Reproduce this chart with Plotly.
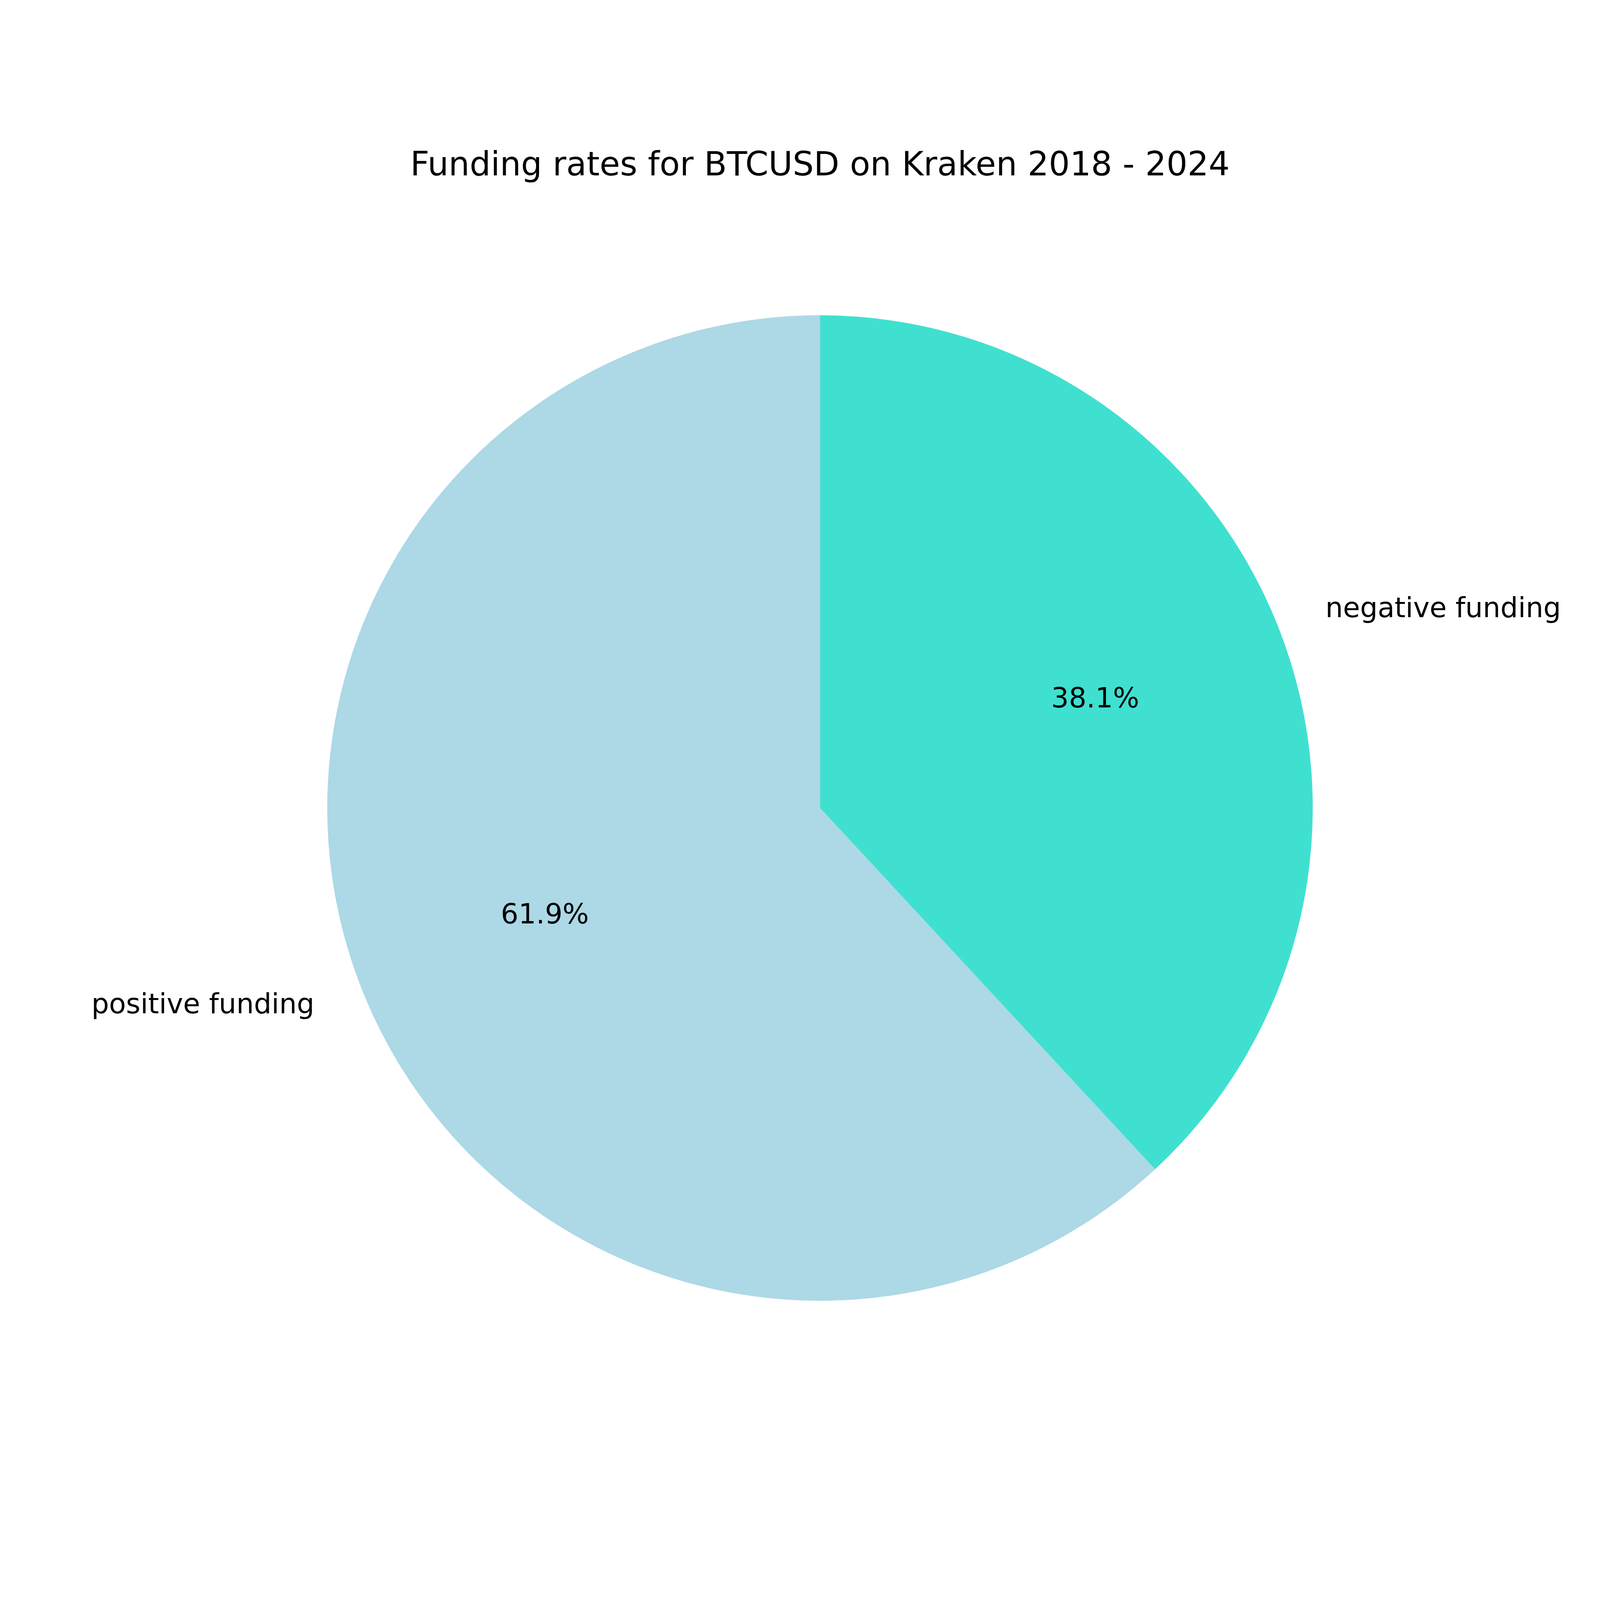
"""Pie chart of BTCUSD funding rate sign on Kraken, plotly version."""

import math

import plotly.graph_objects as go

# data
labels = ["positive funding", "negative funding"]
shares = [61.9, 38.1]
colors = ["#ADD8E6", "#40E0D0"]
title = "Funding rates for BTCUSD on Kraken 2018 - 2024"

# geometry: measured on the reference (6400 px), mapped onto the
# 4096 px viewport the page is actually shown in (body margin 8 px)
S = 4096 / 6400
OFF = 8
W = H = 4080
CX = 3280 * S - OFF
CY = 3232 * S - OFF  # from the top
R = 1971 * S
TITLE_Y = 655 * S - OFF
FONT = "DejaVu Sans"
LABEL_SIZE = round(111 * S)
TITLE_SIZE = round(133 * S)
SHIFT = 9 * S

cx = CX / W
cy = 1 - CY / H
rx = R / W
ry = R / H

fig = go.Figure()
# matplotlib draws the first wedge counterclockwise from 12 o'clock;
# in plotly the same picture is the reversed order drawn clockwise
fig.add_trace(
    go.Pie(
        labels=labels[::-1],
        values=shares[::-1],
        marker=dict(colors=colors[::-1], line=dict(width=0)),
        sort=False,
        direction="clockwise",
        rotation=0,
        textinfo="none",
        hoverinfo="label+percent",
        showlegend=False,
        domain=dict(x=[cx - rx, cx + rx], y=[cy - ry, cy + ry]),
    )
)

# label / percent text placed like matplotlib (1.1 r and 0.6 r)
total = sum(shares)
start = 90.0
for lab, val in zip(labels, shares):
    span = 360.0 * val / total
    mid = math.radians(start + span / 2)
    start += span
    c, s = math.cos(mid), math.sin(mid)
    fig.add_annotation(
        x=cx + 0.6 * rx * c,
        y=cy + 0.6 * ry * s,
        text=f"{100 * val / total:.1f}%",
        showarrow=False,
        xanchor="center",
        yanchor="middle",
        yshift=SHIFT,
        font=dict(family=FONT, size=LABEL_SIZE, color="black"),
    )
    fig.add_annotation(
        x=cx + 1.1 * rx * c,
        y=cy + 1.1 * ry * s,
        text=lab,
        showarrow=False,
        xanchor="left" if c > 0 else "right",
        yanchor="middle",
        yshift=SHIFT,
        font=dict(family=FONT, size=LABEL_SIZE, color="black"),
    )

fig.update_layout(
    width=W,
    height=H,
    margin=dict(l=0, r=0, t=0, b=0),
    paper_bgcolor="white",
    plot_bgcolor="white",
    title=dict(
        text=title,
        x=cx,
        xanchor="center",
        y=1 - TITLE_Y / H,
        yanchor="middle",
        font=dict(family=FONT, size=TITLE_SIZE, color="black"),
    ),
)

fig.write_html("out.html")
